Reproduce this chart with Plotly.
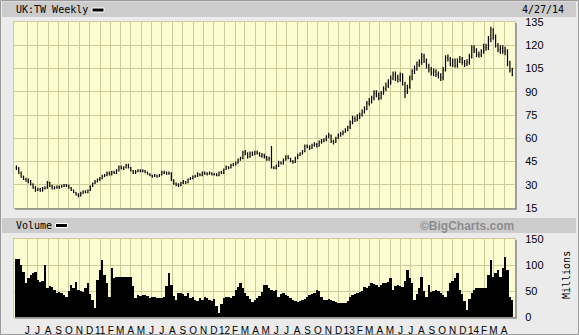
import pandas as pd
import plotly.graph_objects as go

# ---------------- data (weekly, UK:TW) ----------------
dates = pd.date_range("2010-04-30", periods=209, freq="W-FRI")

opens = [
    41, 40.5, 37.5, 35, 33.5, 33, 32, 30, 28, 26.5,
    27, 26, 27.5, 28, 31.5, 29, 27.5, 28, 28.5, 28.5,
    29, 29.5, 29.5, 28, 26.5, 25, 23.5, 23, 24.5, 25.5,
    25, 26.5, 29, 31, 32, 33.5, 34, 35.5, 36, 37.5,
    37, 38, 37.5, 39, 41.5, 40.5, 41, 42.5, 41, 39,
    37.5, 38.5, 39, 38.5, 39, 38, 37, 36, 35.5, 36,
    35.5, 36.5, 38, 37.5, 37, 37.5, 33, 31, 30, 29.5,
    31, 32, 31.5, 33.5, 34, 35, 35.5, 37, 36, 37.5,
    37, 37, 37.5, 36.5, 37, 36, 38, 37.5, 40, 41.5,
    41, 42.5, 43, 44, 46, 47, 51, 50, 48, 50.5,
    49.5, 51, 50, 48.5, 49, 48, 46, 47, 41, 40.5,
    42, 44.5, 43.5, 46, 48, 47, 45, 44.5, 47, 49,
    50, 51.5, 55, 54.5, 53.5, 55.5, 56, 55, 57.5, 58,
    59, 61, 62, 58, 57.5, 60, 62, 63, 64, 65,
    67, 70, 73, 72, 74, 75, 77, 79, 82.5, 84,
    86, 89, 88, 86, 89, 92, 94, 96, 99, 101,
    99, 98, 101, 95, 90, 93, 99, 103, 105, 107.5,
    109, 113, 110, 106.5, 104, 102, 103, 101, 100, 99,
    104, 112, 111, 108, 110, 107, 110, 111, 109, 108,
    109, 113, 118.5, 117, 114, 114, 116, 119, 118.5, 124,
    130, 125, 120, 117, 118, 116, 116, 108, 104,
]
highs = [
    42.5, 41.5, 38.5, 36, 34.5, 34, 33, 31, 29, 28,
    28, 28.5, 29, 32.5, 32, 30, 29, 29.5, 29.5, 30,
    30.5, 30.5, 30, 28.5, 27, 25.5, 24.5, 25.5, 26.5, 26.5,
    27, 29.5, 31.5, 33, 34, 35, 36.5, 37, 38.5, 38.5,
    39, 39, 40, 42.5, 42.5, 42, 43.5, 43.5, 41.5, 39.5,
    39.5, 40, 40, 40, 39.5, 38.5, 37.5, 36.5, 37, 36.5,
    37, 39, 39, 38.5, 38.5, 38, 33.5, 31.5, 31, 32,
    33, 32.5, 34, 35, 36, 36.5, 38, 37.5, 38.5, 38.5,
    38, 38.5, 38, 37.5, 37.5, 38.5, 39, 40.5, 42.5, 42,
    43.5, 44, 45, 47, 48, 52, 52.5, 51, 51.5, 51.5,
    52, 52, 51, 50.5, 50, 48.5, 48, 55, 42, 43,
    45.5, 45, 47, 49, 49, 47.5, 46, 48, 50, 51,
    52.5, 56, 56, 55.5, 56.5, 57.5, 57, 58.5, 59.5, 60,
    62, 63.5, 62.5, 59, 61, 63, 64, 65, 66.5, 68,
    71.5, 74.5, 74, 75.5, 76.5, 78.5, 80.5, 84, 86, 87.5,
    91, 91, 89.5, 90.5, 93.5, 96, 98, 100.5, 103, 103,
    101, 102.5, 102, 96.5, 94.5, 100.5, 104.5, 107, 109.5, 111,
    115, 114.5, 111.5, 108, 106, 105, 104.5, 103, 102, 106,
    113.5, 114, 112.5, 111.5, 111.5, 111.5, 113, 112.5, 110.5, 111,
    114.5, 120, 120, 118, 116, 117.5, 121, 121, 126, 132,
    131, 127, 121.5, 120, 120, 119, 117.5, 110, 105.5,
]
lows = [
    39.5, 37, 34.5, 33, 32, 31, 29.5, 27.5, 25.5, 26,
    25.5, 25.5, 27, 27.5, 28.5, 27, 27, 27.5, 27.5, 28,
    28.5, 28.5, 27.5, 26, 24.5, 23, 22, 22.5, 24, 24.5,
    24.5, 26, 28.5, 30.5, 31.5, 32.5, 33.5, 35, 35.5, 36,
    36, 37, 37, 38.5, 40, 39.5, 40.5, 40.5, 38.5, 37,
    37, 38, 38, 38, 37.5, 36.5, 35.5, 34.5, 35, 34.5,
    35, 36, 37, 36.5, 36.5, 32.5, 30, 29, 28.5, 29,
    30.5, 30.5, 31, 33, 33.5, 34.5, 35, 35.5, 35.5, 36.5,
    36, 36.5, 36, 36, 35.5, 35.5, 37, 37, 39.5, 40,
    40.5, 42, 42.5, 43.5, 45.5, 46.5, 49, 47, 47.5, 48.5,
    49, 49.5, 48, 47.5, 47, 45.5, 45.5, 40.5, 40, 40,
    41.5, 43, 43, 45.5, 46.5, 44.5, 43.5, 44, 46.5, 48.5,
    49.5, 51, 53.5, 52.5, 53, 54.5, 54, 54.5, 56.5, 57.5,
    58, 60, 57, 56, 57, 59.5, 61, 62, 63.5, 64.5,
    66, 69, 70.5, 71, 72.5, 74, 76, 78, 81, 82.5,
    84.5, 86.5, 84.5, 85, 88, 90.5, 92.5, 94.5, 97.5, 97,
    96, 96.5, 94, 86, 88.5, 92, 97.5, 101.5, 103.5, 106,
    107.5, 108.5, 105, 102.5, 100.5, 100, 99.5, 98.5, 97, 97.5,
    103, 109.5, 106.5, 106, 105.5, 105.5, 108.5, 107.5, 106, 106.5,
    107.5, 111.5, 115, 112.5, 112, 112.5, 114.5, 116.5, 117, 122,
    123.5, 118.5, 115.5, 114.5, 114.5, 113.5, 106.5, 102.5, 100,
]
closes = [
    40.5, 37.5, 35, 33.5, 33, 32, 30, 28, 26.5, 27,
    26, 27.5, 28, 31.5, 29, 27.5, 28, 28.5, 28.5, 29,
    29.5, 29.5, 28, 26.5, 25, 23.5, 23, 24.5, 25.5, 25,
    26.5, 29, 31, 32, 33.5, 34, 35.5, 36, 37.5, 37,
    38, 37.5, 39, 41.5, 40.5, 41, 42.5, 41, 39, 37.5,
    38.5, 39, 38.5, 39, 38, 37, 36, 35.5, 36, 35.5,
    36.5, 38, 37.5, 37, 37.5, 33, 31, 30, 29.5, 31,
    32, 31.5, 33.5, 34, 35, 35.5, 37, 36, 37.5, 37,
    37, 37.5, 36.5, 37, 36, 38, 37.5, 40, 41.5, 41,
    42.5, 43, 44, 46, 47, 51, 50, 48, 50.5, 49.5,
    51, 50, 48.5, 49, 48, 46, 47, 41, 40.5, 42,
    44.5, 43.5, 46, 48, 47, 45, 44.5, 47, 49, 50,
    51.5, 55, 54.5, 53.5, 55.5, 56, 55, 57.5, 58, 59,
    61, 62, 58, 57.5, 60, 62, 63, 64, 65, 67,
    70, 73, 72, 74, 75, 77, 79, 82.5, 84, 86,
    89, 88, 86, 89, 92, 94, 96, 99, 101, 99,
    98, 101, 95, 90, 93, 99, 103, 105, 107.5, 109,
    113, 110, 106.5, 104, 102, 103, 101, 100, 99, 104,
    112, 111, 108, 110, 107, 110, 111, 109, 108, 109,
    113, 118.5, 117, 114, 114, 116, 119, 118.5, 124, 130,
    125, 120, 117, 118, 116, 116, 108, 104, 101,
]
volume_millions = [
    111, 112, 100, 87, 65, 75, 81, 85, 87, 72,
    68, 70, 100, 55, 60, 58, 52, 46, 48, 46,
    42, 39, 50, 61, 55, 68, 52, 50, 48, 55,
    65, 45, 32, 17, 71, 90, 110, 80, 65, 39,
    94, 75, 77, 77, 77, 77, 77, 77, 77, 60,
    36, 42, 40, 42, 42, 40, 36, 38, 39, 37,
    36, 36, 39, 60, 85, 61, 40, 32, 46, 46,
    44, 40, 46, 36, 39, 32, 30, 36, 32, 39,
    36, 32, 30, 34, 22, 7, 25, 36, 39, 38,
    36, 40, 52, 58, 65, 55, 46, 40, 34, 29,
    32, 36, 40, 48, 61, 61, 55, 52, 50, 52,
    39, 44, 46, 42, 40, 36, 33, 30, 29, 30,
    32, 35, 39, 42, 44, 46, 52, 50, 38, 32,
    32, 34, 32, 30, 28, 26, 27, 26, 26, 30,
    39, 42, 44, 46, 48, 50, 58, 55, 60, 65,
    63, 61, 58, 62, 65, 65, 68, 75, 52, 60,
    61, 60, 58, 70, 90, 75, 65, 32, 45, 55,
    77, 50, 39, 61, 48, 50, 52, 50, 46, 42,
    39, 50, 65, 70, 75, 85, 52, 45, 30, 13,
    35, 46, 52, 55, 55, 55, 55, 55, 80, 110,
    77, 85, 90, 77, 95, 116, 90, 39, 32,
]

month_ticks = pd.date_range("2010-06-01", periods=47, freq="MS")
month_labels = [
    "J", "J", "A", "S", "O", "N", "D",
    "11", "F", "M", "A", "M", "J", "J", "A", "S", "O", "N", "D",
    "12", "F", "M", "A", "M", "J", "J", "A", "S", "O", "N", "D",
    "13", "F", "M", "A", "M", "J", "J", "A", "S", "O", "N", "D",
    "14", "F", "M", "A",
]
price_ticks = [15, 30, 45, 60, 75, 90, 105, 120, 135]
volume_ticks = [0, 50, 100, 150]

# ---------------- styling ----------------
PAGE = "#ebebeb"
BAND = "#cccccc"
PLOT_BG = "#fdfdd2"
GRID = "#cccc99"
SHADOW = "#8a8a8a"

PL, PR, PT, PB = 14, 515, 22, 317
W, H = PR - PL, PB - PT


def px(x):
    return (x - PL) / W


def py(y):
    return (PB - y) / H


MAIN_BOTTOM = 208
VOL_TOP = 239

fig = go.Figure()
fig.add_trace(go.Ohlc(
    x=dates, open=opens, high=highs, low=lows, close=closes,
    increasing=dict(line=dict(color="black", width=1.2)),
    decreasing=dict(line=dict(color="black", width=1.2)),
    tickwidth=0.3, xaxis="x", yaxis="y", hoverinfo="skip",
))
fig.add_trace(go.Bar(
    x=dates, y=volume_millions, marker=dict(color="black", line=dict(width=0)),
    xaxis="x2", yaxis="y2", hoverinfo="skip",
))

rng = ["2010-04-23", "2014-05-03"]
font_axis = dict(family="Liberation Sans, Arial, sans-serif", size=11, color="black")
font_x = dict(family="Liberation Sans, Arial, sans-serif", size=10, color="black")
mono = "DejaVu Sans Mono, monospace"

fig.update_layout(
    width=579, height=335,
    margin=dict(l=PL, r=579 - PR, t=PT, b=335 - PB, pad=0, autoexpand=False),
    paper_bgcolor=PAGE, plot_bgcolor=PLOT_BG,
    showlegend=False, bargap=0,
    xaxis=dict(
        domain=[0, 1], anchor="y", type="date", range=rng, automargin=False,
        tickvals=month_ticks, showticklabels=False, ticks="",
        showgrid=True, gridcolor=GRID, gridwidth=1,
        showline=True, linecolor=GRID, mirror=True,
        rangeslider=dict(visible=False), zeroline=False, fixedrange=True,
    ),
    yaxis=dict(
        domain=[py(MAIN_BOTTOM), 1], anchor="x", side="right", automargin=False,
        range=[15, 135], tickvals=price_ticks,
        showgrid=True, gridcolor=GRID, gridwidth=1,
        ticks="outside", ticklen=7, tickcolor=PAGE,
        tickfont=font_axis, zeroline=False,
        showline=True, linecolor=GRID, mirror=True,
    ),
    xaxis2=dict(
        domain=[0, 1], anchor="y2", type="date", range=rng, automargin=False,
        tickvals=month_ticks, ticktext=month_labels,
        ticks="outside", ticklen=4, tickcolor=PAGE,
        tickfont=font_x, tickangle=0,
        showgrid=True, gridcolor=GRID, gridwidth=1,
        showline=True, linecolor=GRID, mirror=True, zeroline=False,
    ),
    yaxis2=dict(
        domain=[0, py(VOL_TOP)], anchor="x2", side="right", automargin=False,
        range=[0, 150], tickvals=volume_ticks,
        showgrid=True, gridcolor=GRID, gridwidth=1,
        ticks="outside", ticklen=7, tickcolor=PAGE,
        tickfont=font_axis, zeroline=False,
        showline=True, linecolor=GRID, mirror=True,
    ),
)

shapes = []
# outer frame
shapes.append(dict(type="rect", xref="paper", yref="paper",
                   x0=px(0.5), x1=px(578.5), y0=py(0.5), y1=py(334.5),
                   line=dict(color="#9a9a9a", width=1)))
# header band and volume band
shapes.append(dict(type="rect", xref="paper", yref="paper", layer="below",
                   x0=px(2), x1=px(576), y0=py(17), y1=py(1.5),
                   line=dict(width=0), fillcolor=BAND))
shapes.append(dict(type="rect", xref="paper", yref="paper", layer="below",
                   x0=px(2), x1=px(576), y0=py(233), y1=py(218),
                   line=dict(width=0), fillcolor=BAND))
# legend swatches
for (a, b, c, d) in [(92, 104, 8, 12), (55.5, 67.5, 223.5, 227.5)]:
    shapes.append(dict(type="rect", xref="paper", yref="paper",
                       x0=px(a), x1=px(b), y0=py(d), y1=py(c),
                       line=dict(color="white", width=1), fillcolor="black"))
# plot shadows (bottom and right)
for top, bottom in [(PT, MAIN_BOTTOM), (VOL_TOP, PB)]:
    shapes.append(dict(type="line", xref="paper", yref="paper",
                       x0=px(PL + 1), x1=px(PR + 1.5), y0=py(bottom + 1), y1=py(bottom + 1),
                       line=dict(color=SHADOW, width=1.5)))
    shapes.append(dict(type="line", xref="paper", yref="paper",
                       x0=px(PR + 1), x1=px(PR + 1), y0=py(top + 1), y1=py(bottom + 1.5),
                       line=dict(color=SHADOW, width=1.5)))
fig.update_layout(shapes=shapes)

ann = [
    dict(text="UK:TW Weekly", x=px(14), y=py(10), xanchor="left", yanchor="middle",
         font=dict(family=mono, size=10, color="black")),
    dict(text="4/27/14", x=px(566), y=py(10), xanchor="right", yanchor="middle",
         font=dict(family=mono, size=10, color="black")),
    dict(text="Volume", x=px(14), y=py(225.5), xanchor="left", yanchor="middle",
         font=dict(family=mono, size=10, color="black")),
    dict(text="©BigCharts.com", x=px(516), y=py(225.5), xanchor="right", yanchor="middle",
         font=dict(family="Liberation Sans, Arial, sans-serif", size=12, color="#8c8c8c",
                   weight="bold")),
    dict(text="Millions", x=px(566), y=py(275), xanchor="center", yanchor="middle",
         textangle=-90, font=dict(family=mono, size=10, color="black")),
]
for a in ann:
    a.update(xref="paper", yref="paper", showarrow=False)
fig.update_layout(annotations=ann)

fig.write_html("out.html")
